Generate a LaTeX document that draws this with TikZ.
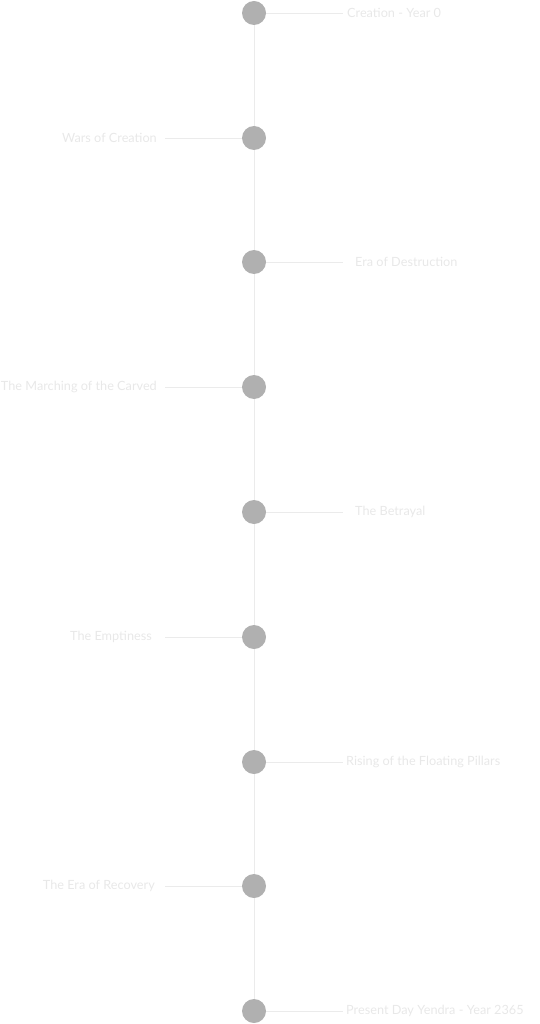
\documentclass[tikz,border=0pt]{standalone}
\usepackage{fontspec}
\setmainfont{Lato}
\usetikzlibrary{backgrounds}
\definecolor{tldot}{HTML}{B0B0B0}
\definecolor{tlline}{HTML}{EBEBEB}
\definecolor{tltext}{HTML}{E8E8E8}
\begin{document}
\begin{tikzpicture}[x=1pt, y=-1pt,
  dot/.style={circle, fill=tldot, minimum size=24pt, inner sep=0pt},
  spine/.style={draw=tlline, line width=1pt},
  tick/.style={draw=tlline, line width=0.8pt},
  evtext/.style={font=\fontsize{12.7}{14}\selectfont, text=tltext, inner sep=0pt}
]
\useasboundingbox (0,0) rectangle (540,1024);
% events on the right
\foreach \n/\y/\tx/\txt in {1/13/347/Creation - Year 0, 3/262/355/Era of Destruction,
    5/512/355/The Betrayal, 7/762/346/Rising of the Floating Pillars,
    9/1011/346/Present Day Yendra - Year 2365} {
  \node[dot] (d\n) at (254,\y) {};
  \coordinate (t\n) at (343,\y);
  \node[evtext, anchor=west] (e\n) at (\tx,\y) {\txt};
  \draw[tick] (d\n.east) -- (t\n);
}
% events on the left
\foreach \n/\y/\tx/\txt in {2/138/157/Wars of Creation, 4/387/157/The Marching of the Carved,
    6/637/152/The Emptiness, 8/886/155/The Era of Recovery} {
  \node[dot] (d\n) at (254,\y) {};
  \coordinate (t\n) at (165,\y);
  \node[evtext, anchor=east] (e\n) at (\tx,\y) {\txt};
  \draw[tick] (t\n) -- (d\n.west);
}
% spine behind the dots
\begin{scope}[on background layer]
\draw[spine] (d1.center) -- (d9.center);
\end{scope}
\end{tikzpicture}
\end{document}
